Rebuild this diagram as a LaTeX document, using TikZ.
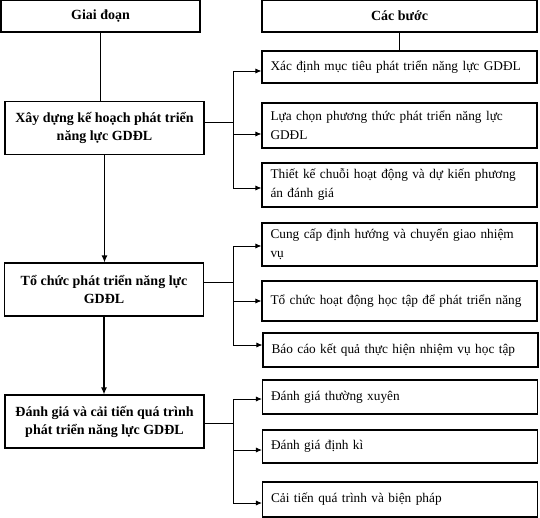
\documentclass[tikz,border=0pt]{standalone}
\usepackage{fontspec}
\setmainfont{Liberation Serif}
\usepackage{tikz}
\usetikzlibrary{arrows.meta, positioning}
\tikzstyle{head} = [rectangle, draw=black, line width=1.1pt, minimum height=32pt, text centered, font=\fontsize{14}{18}\selectfont\bfseries]
\tikzstyle{stage} = [rectangle, draw=black, line width=1.1pt, minimum width=199pt, minimum height=53pt, align=center, inner sep=2pt, font=\fontsize{14}{18}\selectfont\bfseries]
\tikzstyle{stepbox} = [rectangle, draw=black, line width=1.1pt, text width=258pt, inner xsep=8.5pt, inner ysep=2pt, align=left, font=\fontsize{13.3}{19}\selectfont]
\tikzstyle{link} = [line width=1.2pt]
\tikzstyle{flow} = [line width=1.2pt, ->, >={Latex[length=7pt,width=6pt]}]
\tikzstyle{arrow} = [line width=0.8pt, ->, >={Latex[length=6pt,width=5pt]}]

\begin{document}
\begin{tikzpicture}[x=1pt, y=-1pt]
\useasboundingbox (0,0) rectangle (540,518);

% Headers
\node (phase) [head, minimum width=199pt] at (100.5,16) {Giai đoạn};
\node (steps) [head, minimum width=275pt] at (399.5,16) {Các bước};

% Stages
\node (plan) [stage] at (104.5,128) {Xây dựng kế hoạch phát triển\\năng lực GDĐL};
\node (organize) [stage] at (104,289.5) {Tổ chức phát triển năng lực\\GDĐL};
\node (evaluate) [stage] at (104.5,421.5) {Đánh giá và cải tiến quá trình\\phát triển năng lực GDĐL};

% Steps of stage 1
\node (goal) [stepbox, minimum height=32pt] at (399.5,67) {Xác định mục tiêu phát triển năng lực GDĐL};
\node (method) [stepbox, minimum height=45pt] at (399.5,125.5) {Lựa chọn phương thức phát triển năng lực\\GDĐL};
\node (design) [stepbox, minimum height=44pt] at (399.5,185) {Thiết kế chuỗi hoạt động và dự kiến phương\\án đánh giá};

% Steps of stage 2
\node (task) [stepbox, minimum height=43pt] at (399.5,244.5) {Cung cấp định hướng và chuyển giao nhiệm\\vụ};
\node (activity) [stepbox, minimum height=40pt] at (399.5,301) {\mbox{Tổ chức hoạt động học tập để phát triển năng}};
\node (report) [stepbox, minimum height=34pt] at (400.5,350) {Báo cáo kết quả thực hiện nhiệm vụ học tập};

% Steps of stage 3
\node (regular) [stepbox, minimum height=34pt] at (400,397) {Đánh giá thường xuyên};
\node (periodic) [stepbox, minimum height=33pt] at (400,446.5) {Đánh giá định kì};
\node (improve) [stepbox, minimum height=35pt] at (400,499.5) {Cải tiến quá trình và biện pháp};

% Connections
\draw [link] (phase.south) -- (phase.south |- plan.north);
\draw [link] (steps.south) -- (goal.north);
\draw [flow] (plan.south) -- (plan.south |- organize.north);
\draw [flow] (organize.south) -- (organize.south |- evaluate.north);

\draw [line width=0.8pt] ([yshift=6pt]plan.east) -- ++(29,0) coordinate (j1);
\draw [line width=0.8pt] ([yshift=7.5pt]organize.east) -- ++(29,0) coordinate (j2);
\draw [line width=0.8pt] ([yshift=-1.5pt]evaluate.east) -- ++(29,0) coordinate (j3);

\foreach \b/\s in {goal/-4, method/-8.5, design/-3}
  \draw [arrow] (j1) |- ([yshift=\s pt]\b.west);
\foreach \b/\s in {task/-1.5, activity/0, report/5}
  \draw [arrow] (j2) |- ([yshift=\s pt]\b.west);
\foreach \b/\s in {regular/-2, periodic/-3.5, improve/-3.5}
  \draw [arrow] (j3) |- ([yshift=\s pt]\b.west);

\end{tikzpicture}
\end{document}
